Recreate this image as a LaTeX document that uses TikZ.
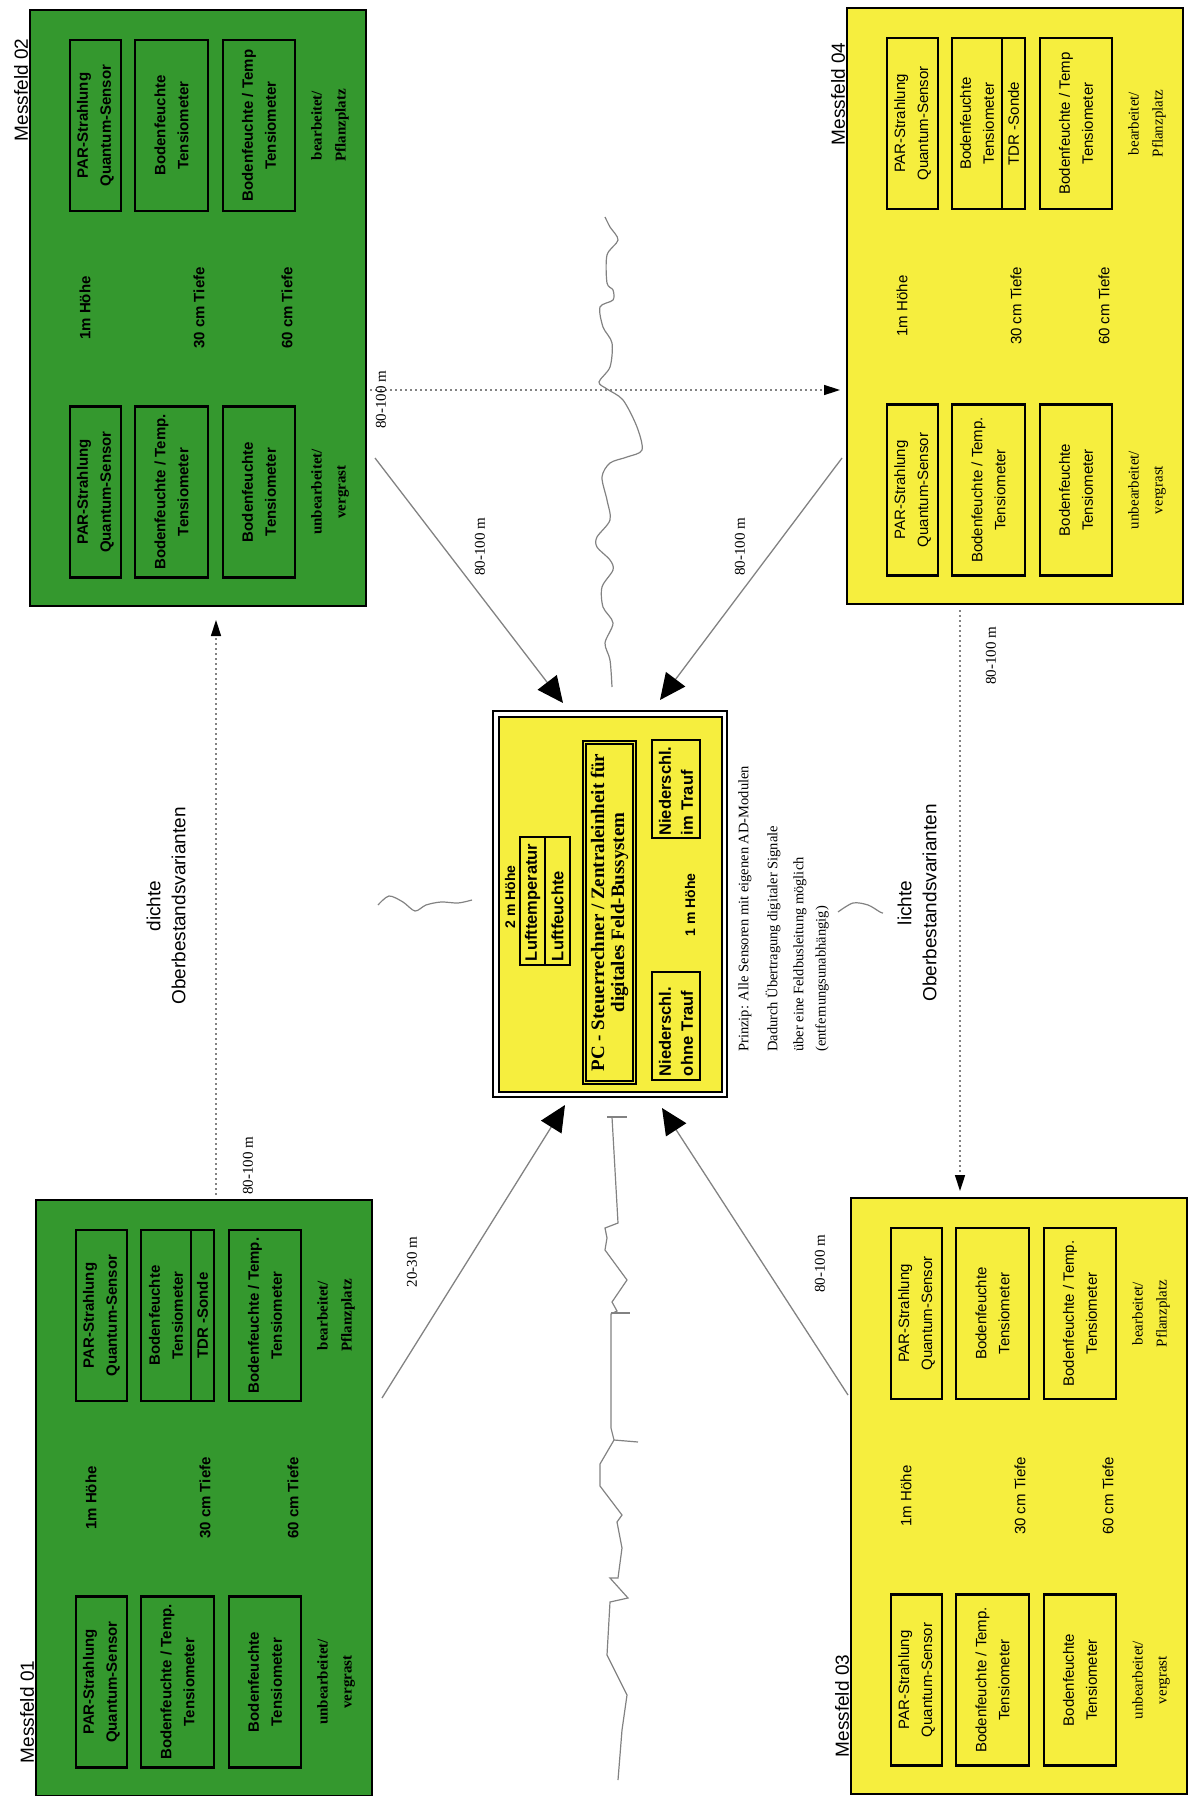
\documentclass[tikz,border=0pt]{standalone}
\usepackage{fontspec}
\setmainfont{Liberation Serif}
\setsansfont{Liberation Sans}
\usetikzlibrary{arrows.meta}
\definecolor{fieldgreen}{RGB}{52,152,46}
\definecolor{fieldyellow}{RGB}{246,238,62}
\definecolor{linegray}{RGB}{130,130,130}
\def\fieldweight{}

\begin{document}
\begin{tikzpicture}[x=1pt,y=-1pt,
  field/.style={draw=black, line width=2.5pt},
  sensor/.style={draw=black, line width=2.2pt, rotate=90, align=center, inner sep=0pt,
    minimum width=171pt, minimum height=#1, font=\sffamily\fieldweight\fontsize{15}{23}\selectfont},
  depth/.style={rotate=90, font=\sffamily\fieldweight\fontsize{15}{18}\selectfont},
  soil/.style={rotate=90, align=center, font=\rmfamily\fieldweight\fontsize{15}{24}\selectfont},
  fieldname/.style={rotate=90, font=\sffamily\fontsize{19}{23}\selectfont},
  variant/.style={rotate=90, align=center, font=\sffamily\fontsize{19}{25}\selectfont},
  dist/.style={rotate=90, font=\rmfamily\fontsize{15}{18}\selectfont},
  note/.style={rotate=90, anchor=west, inner sep=0pt, font=\rmfamily\fontsize{14.5}{18}\selectfont},
  unit/.style={draw=black, line width=1.8pt, rotate=90, align=left, inner sep=0pt,
    font=\sffamily\bfseries\fontsize{16.5}{22}\selectfont},
  link/.style={draw=linegray, line width=1.3pt, -{Triangle[length=26pt,width=24pt,color=black]}},
  dotlink/.style={draw=linegray, line width=1.5pt, dash pattern=on 2pt off 3pt,
    -{Triangle[length=16pt,width=10pt,color=black]}},
  crack/.style={draw=linegray, line width=1.2pt}
]
\useasboundingbox (0,0) rectangle (1189,1796);

% Messfeld 02 (top left)
\begin{scope}[shift={(30,10)}]
  \def\fieldweight{\bfseries}
  \draw[field, fill=fieldgreen] (0,0) rectangle (336,596);
  \node[fieldname] (m2name) at (-9,80) {Messfeld 02};
  \node[sensor=51pt] (m2parA) at (65.5,115.5) {PAR-Strahlung\\Quantum-Sensor};
  \node[sensor=73pt] (m2bfA) at (141.5,115.5) {Bodenfeuchte\\Tensiometer};
  \node[sensor=72pt] (m2btA) at (229,115.5) {Bodenfeuchte / Temp\\Tensiometer};
  \node[sensor=51pt] (m2parB) at (65.5,482) {PAR-Strahlung\\Quantum-Sensor};
  \node[sensor=73pt] (m2btB) at (141.5,482) {Bodenfeuchte / Temp.\\Tensiometer};
  \node[sensor=72pt] (m2bfB) at (229,482) {Bodenfeuchte\\Tensiometer};
  \node[depth] (m2h) at (55,298) {1m Höhe};
  \node[depth] (m2t30) at (169,298) {30 cm Tiefe};
  \node[depth] (m2t60) at (257,298) {60 cm Tiefe};
  \node[soil] (m2soilA) at (300,115.5) {bearbeitet/\\Pflanzplatz};
  \node[soil] (m2soilB) at (300,482) {unbearbeitet/\\vergrast};
\end{scope}

% Messfeld 04 (top right)
\begin{scope}[shift={(847,8)}]
  \draw[field, fill=fieldyellow] (0,0) rectangle (336,596);
  \node[fieldname] (m4name) at (-9,86) {Messfeld 04};
  \node[sensor=51pt] (m4parA) at (65.5,115.5) {PAR-Strahlung\\Quantum-Sensor};
  \node[sensor=50pt] (m4bfA) at (130,115.5) {Bodenfeuchte\\Tensiometer};
  \node[sensor=23pt] (m4tdrA) at (166.5,115.5) {TDR -Sonde};
  \node[sensor=72pt] (m4btA) at (229,115.5) {Bodenfeuchte / Temp\\Tensiometer};
  \node[sensor=51pt] (m4parB) at (65.5,482) {PAR-Strahlung\\Quantum-Sensor};
  \node[sensor=73pt] (m4btB) at (141.5,482) {Bodenfeuchte / Temp.\\Tensiometer};
  \node[sensor=72pt] (m4bfB) at (229,482) {Bodenfeuchte\\Tensiometer};
  \node[depth] (m4h) at (55,298) {1m Höhe};
  \node[depth] (m4t30) at (169,298) {30 cm Tiefe};
  \node[depth] (m4t60) at (257,298) {60 cm Tiefe};
  \node[soil] (m4soilA) at (300,115.5) {bearbeitet/\\Pflanzplatz};
  \node[soil] (m4soilB) at (300,482) {unbearbeitet/\\vergrast};
\end{scope}

% Messfeld 01 (bottom left)
\begin{scope}[shift={(36,1200)}]
  \def\fieldweight{\bfseries}
  \draw[field, fill=fieldgreen] (0,0) rectangle (336,596);
  \node[fieldname] (m1name) at (-9,512) {Messfeld 01};
  \node[sensor=51pt] (m1parA) at (65.5,115.5) {PAR-Strahlung\\Quantum-Sensor};
  \node[sensor=50pt] (m1bfA) at (130,115.5) {Bodenfeuchte\\Tensiometer};
  \node[sensor=23pt] (m1tdrA) at (166.5,115.5) {TDR -Sonde};
  \node[sensor=72pt] (m1btA) at (229,115.5) {Bodenfeuchte / Temp.\\Tensiometer};
  \node[sensor=51pt] (m1parB) at (65.5,482) {PAR-Strahlung\\Quantum-Sensor};
  \node[sensor=73pt] (m1btB) at (141.5,482) {Bodenfeuchte / Temp.\\Tensiometer};
  \node[sensor=72pt] (m1bfB) at (229,482) {Bodenfeuchte\\Tensiometer};
  \node[depth] (m1h) at (55,298) {1m Höhe};
  \node[depth] (m1t30) at (169,298) {30 cm Tiefe};
  \node[depth] (m1t60) at (257,298) {60 cm Tiefe};
  \node[soil] (m1soilA) at (300,115.5) {bearbeitet/\\Pflanzplatz};
  \node[soil] (m1soilB) at (300,482) {unbearbeitet/\\vergrast};
\end{scope}

% Messfeld 03 (bottom right)
\begin{scope}[shift={(851,1198)}]
  \draw[field, fill=fieldyellow] (0,0) rectangle (336,596);
  \node[fieldname] (m3name) at (-9,508) {Messfeld 03};
  \node[sensor=51pt] (m3parA) at (65.5,115.5) {PAR-Strahlung\\Quantum-Sensor};
  \node[sensor=73pt] (m3bfA) at (141.5,115.5) {Bodenfeuchte\\Tensiometer};
  \node[sensor=72pt] (m3btA) at (229,115.5) {Bodenfeuchte / Temp.\\Tensiometer};
  \node[sensor=51pt] (m3parB) at (65.5,482) {PAR-Strahlung\\Quantum-Sensor};
  \node[sensor=73pt] (m3btB) at (141.5,482) {Bodenfeuchte / Temp.\\Tensiometer};
  \node[sensor=72pt] (m3bfB) at (229,482) {Bodenfeuchte\\Tensiometer};
  \node[depth] (m3h) at (55,298) {1m Höhe};
  \node[depth] (m3t30) at (169,298) {30 cm Tiefe};
  \node[depth] (m3t60) at (257,298) {60 cm Tiefe};
  \node[soil] (m3soilA) at (300,115.5) {bearbeitet/\\Pflanzplatz};
  \node[soil] (m3soilB) at (300,482) {unbearbeitet/\\vergrast};
\end{scope}

% Central unit
\node[draw=black, line width=2pt, double=white, double distance=3.5pt, fill=fieldyellow,
  minimum width=228.5pt, minimum height=380.5pt, inner sep=0pt] (zentrale) at (610,904) {};
\node[rotate=90, font=\sffamily\bfseries\fontsize{14}{17}\selectfont] (h2m) at (510,897) {2 m Höhe};
\node[unit, minimum width=128pt, minimum height=25pt, text width=120pt] (lufttemp) at (532.5,901) {Lufttemperatur};
\node[unit, minimum width=128pt, minimum height=25pt, text width=120pt] (luftfeuchte) at (557.5,901) {Luftfeuchte};
\node[draw=black, line width=1.6pt, double=fieldyellow, double distance=1.5pt, rotate=90,
  minimum width=340pt, minimum height=50pt, inner sep=0pt, align=center,
  font=\rmfamily\bfseries\fontsize{19}{20}\selectfont] (pc) at (609.5,912.5)
  {PC - Steuerrechner / Zentraleinheit für\\digitales Feld-Bussystem};
\node[unit, minimum width=108pt, minimum height=48pt, text width=100pt] (nsohne) at (676,1026) {Niederschl.\\ohne Trauf};
\node[unit, minimum width=98pt, minimum height=48pt, text width=93pt] (nsim) at (676,789) {Niederschl.\\im Trauf};
\node[rotate=90, font=\sffamily\bfseries\fontsize{14}{17}\selectfont] (h1m) at (690,905) {1 m Höhe};

% Notes below the central unit
\node[note] (note1) at (745,1052) {Prinzip: Alle Sensoren mit eigenen AD-Modulen};
\node[note] (note2) at (773,1052) {Dadurch Übertragung digitaler Signale};
\node[note] (note3) at (800,1052) {über eine Feldbusleitung möglich};
\node[note] (note4) at (822,1052) {(entfernungsunabhängig)};

% Canopy variants
\node[variant] (dichte) at (166,906) {dichte\\Oberbestandsvarianten};
\node[variant] (lichte) at (917,903) {lichte\\Oberbestandsvarianten};

% Radio links to the central unit
\coordinate (a2s) at (375,458);  \coordinate (a2e) at (563,703);
\coordinate (a4s) at (842,458);  \coordinate (a4e) at (660,700);
\coordinate (a1s) at (382,1398); \coordinate (a1e) at (565,1105);
\coordinate (a3s) at (848,1395); \coordinate (a3e) at (662,1108);
\draw[link] (a2s) -- (a2e);
\draw[link] (a4s) -- (a4e);
\draw[link] (a1s) -- (a1e);
\draw[link] (a3s) -- (a3e);

% Dotted links between the fields
\coordinate (d02s) at (370,390);  \coordinate (d02e) at (840,390);
\coordinate (d12s) at (216,1195); \coordinate (d12e) at (216,620);
\coordinate (d43s) at (960,610);  \coordinate (d43e) at (960,1191);
\draw[dotlink] (d02s) -- (d02e);
\draw[dotlink] (d12s) -- (d12e);
\draw[dotlink] (d43s) -- (d43e);

% Distance labels
\node[dist] (l24) at (381,400) {80-100 m};
\node[dist] (l2z) at (480,547) {80-100 m};
\node[dist] (l4z) at (740,547) {80-100 m};
\node[dist] (l12) at (248,1166) {80-100 m};
\node[dist] (l43) at (991,656) {80-100 m};
\node[dist] (l1z) at (412,1262) {20-30 m};
\node[dist] (l3z) at (820,1264) {80-100 m};

% Cracks (field boundary)
\draw[crack] plot[smooth] coordinates {(605,217) (610,227) (618,240) (607,255) (607,283)
  (613,290) (613,300) (600,307) (603,327) (612,343) (610,367) (599,382) (607,389)
  (623,400) (637,427) (642,450) (627,457) (610,463) (602,477) (607,500) (610,520)
  (597,537) (597,547) (610,560) (613,570) (602,587) (603,607) (613,623) (605,643)
  (610,660) (612,687)};
\draw[crack] (612,1117) -- (618,1223) -- (605,1228) -- (607,1238) -- (605,1250)
  -- (627,1280) -- (612,1302) -- (617,1311) -- (611,1314) -- (611,1428) -- (614,1440)
  -- (600,1464) -- (600,1486) -- (622,1515) -- (617,1522) -- (622,1548) -- (618,1578)
  -- (610,1578) -- (628,1598) -- (610,1602) -- (607,1655) -- (627,1695) -- (622,1730)
  -- (618,1780);
\draw[crack] (607,1117) -- (627,1117);
\draw[crack] (611,1313) -- (630,1313);
\draw[crack] (614,1440) -- (638,1442);
\draw[crack] plot[smooth] coordinates {(378,905) (389,896) (403,902) (415,911)
  (426,905) (441,902) (458,903) (472,900)};
\draw[crack] plot[smooth] coordinates {(838,912) (853,903) (868,905) (880,912) (883,913)};

\end{tikzpicture}
\end{document}
